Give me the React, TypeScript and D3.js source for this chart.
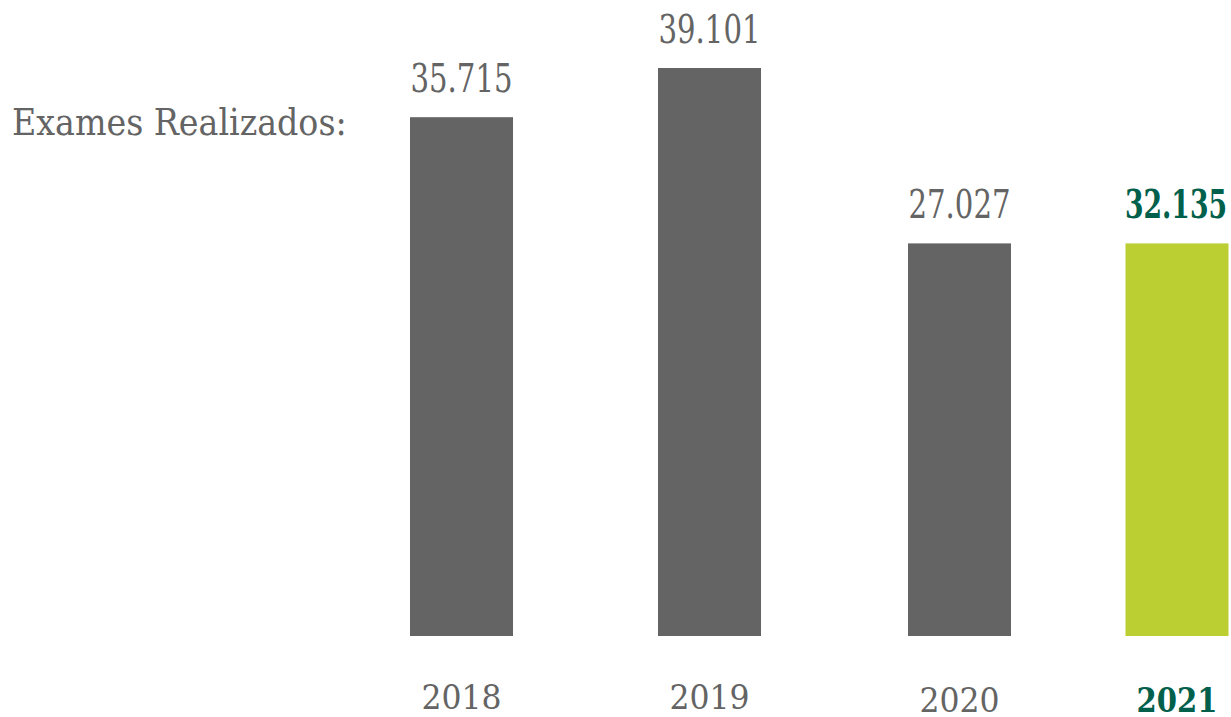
import React from "react";
import * as d3 from "d3";

const title = "Exames Realizados:";
const years = ["2018", "2019", "2020", "2021"];
const labels = ["35.715", "39.101", "27.027", "32.135"];
// heights as drawn in the reference (the 2021 bar is drawn at the same height as 2020)
const plotted = [35715, 39101, 27027, 27027];
const highlight = [false, false, false, true];

const W = 1231;
const H = 717;
const GRAY = "#646464";
const GREEN = "#bbcf33";
const DARK = "#00604b";
const FONT = "'DejaVu Serif Condensed', 'DejaVu Serif', serif";

export default function App() {
  const x = d3.scaleOrdinal<string, number>().domain(years).range([461.5, 709.5, 959.5, 1177]);
  const y = d3.scaleLinear().domain([0, 39101]).range([636, 68]);
  const bw = 103;
  const yearBase = [709, 709, 712, 712];
  return (
    <svg width={W} height={H} style={{ position: "absolute", left: 0, top: 0 }}>
      <text x={12} y={135} fontFamily={FONT} fontSize={37} fill={GRAY}>{title}</text>
      {years.map((yr, i) => (
        <g key={yr}>
          <rect x={x(yr) - bw / 2} y={y(plotted[i])} width={bw} height={y(0) - y(plotted[i])} fill={highlight[i] ? GREEN : GRAY} />
          <text x={highlight[i] ? x(yr) - 1 : x(yr)} y={y(plotted[i]) - 25} textAnchor="middle" fontFamily={FONT} fontSize={39}
            textLength={labels[i].length * 17} lengthAdjust="spacingAndGlyphs"
            fontWeight={highlight[i] ? "bold" : "normal"} fill={highlight[i] ? DARK : GRAY}>{labels[i]}</text>
          <text x={x(yr)} y={yearBase[i]} textAnchor="middle" fontFamily={FONT} fontSize={34}
            textLength={highlight[i] ? 81 : 80} lengthAdjust="spacingAndGlyphs"
            fontWeight={highlight[i] ? "bold" : "normal"} fill={highlight[i] ? DARK : GRAY}>{yr}</text>
        </g>
      ))}
    </svg>
  );
}
